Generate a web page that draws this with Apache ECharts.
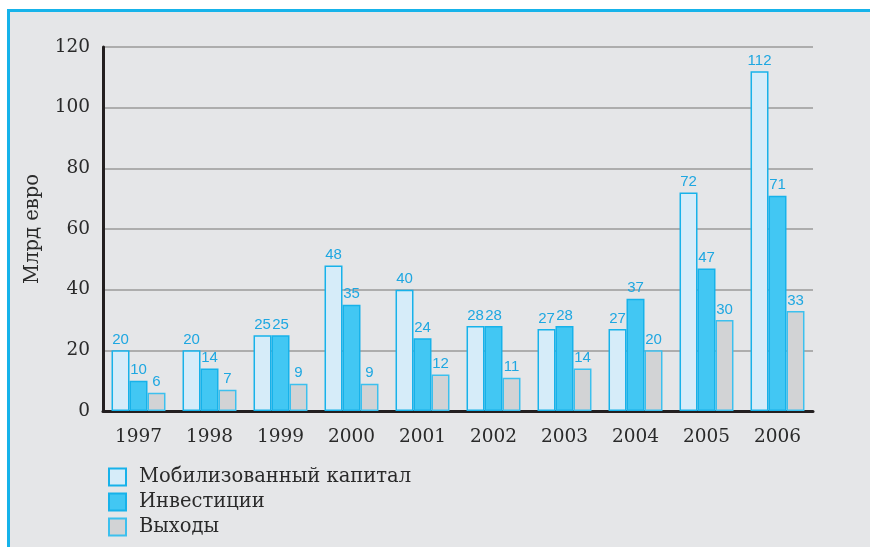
<!DOCTYPE html>
<html><head><meta charset="utf-8">
<script src="https://cdn.jsdelivr.net/npm/echarts@6/dist/echarts.min.js"></script>
<style>
html,body{margin:0;padding:0;background:#e5e6e8;overflow:hidden;}
#main{position:absolute;left:0;top:0;width:870px;height:547px;}
</style></head>
<body><div id="main"></div>
<script>
const years = ['1997','1998','1999','2000','2001','2002','2003','2004','2005','2006'];
const mobilized = [20,20,25,48,40,28,27,27,72,112];
const investments = [10,14,25,35,24,28,28,37,47,71];
const exits = [6,7,9,9,12,11,14,20,30,33];
const seriesNames = ['Мобилизованный капитал','Инвестиции','Выходы'];
const yTicks = [0,20,40,60,80,100,120];

const chart = echarts.init(document.getElementById('main'));
const serif = '"DejaVu Serif", serif';
const labelStyle = {show:true, position:'top', distance:3, color:'#1ea7e1', fontFamily:'"Liberation Sans", Arial, sans-serif', fontSize:15};
const fills = ['#d6ecf9','#42c7f3','#d2d3d5'];
const borders = ['#17b2ea','#17b2ea','#3cc0ee'];
const datas = [mobilized, investments, exits];
chart.setOption({
  animation:false,
  backgroundColor:'#e5e6e8',
  graphic:[
    {type:'rect', silent:true, z:-10, shape:{x:0,y:0,width:870,height:9}, style:{fill:'#ffffff'}},
    {type:'rect', silent:true, z:-10, shape:{x:0,y:0,width:7,height:547}, style:{fill:'#ffffff'}},
    {type:'rect', silent:true, z:-9, shape:{x:7,y:9,width:870,height:3}, style:{fill:'#16b3ea'}},
    {type:'rect', silent:true, z:-9, shape:{x:7,y:9,width:3,height:547}, style:{fill:'#16b3ea'}}
  ],
  grid:{left:103, top:47, right:57, bottom:136},
  legend:{
    orient:'vertical', left:103, top:462, height:84, itemWidth:17, itemHeight:17, itemGap:5, icon:'rect',
    textStyle:{fontFamily:serif, fontSize:19.5, color:'#2a2a2a', padding:[0,0,0,8]},
    data:seriesNames
  },
  xAxis:{
    type:'category', data:years,
    axisLine:{lineStyle:{color:'#231f20', width:3}},
    axisTick:{show:false},
    axisLabel:{fontFamily:serif, fontSize:18.5, color:'#2a2a2a', margin:17}
  },
  yAxis:{
    type:'value', min:yTicks[0], max:yTicks[yTicks.length-1], interval:20,
    name:'Млрд евро', nameLocation:'middle', nameGap:60, nameRotate:90,
    nameTextStyle:{fontFamily:serif, fontSize:19.5, color:'#2a2a2a'},
    axisLine:{show:true, lineStyle:{color:'#231f20', width:3}},
    axisTick:{show:false},
    axisLabel:{fontFamily:serif, fontSize:18.5, color:'#2a2a2a', margin:13},
    splitLine:{lineStyle:{color:'#9a9a9a', width:1.5}}
  },
  series: seriesNames.map((n,i)=>({
    name:n, type:'bar', data:datas[i],
    barGap:'0%', barCategoryGap:'24%',
    itemStyle:{color:fills[i], borderColor:borders[i], borderWidth:1.5},
    label:labelStyle
  }))
});
</script></body></html>
